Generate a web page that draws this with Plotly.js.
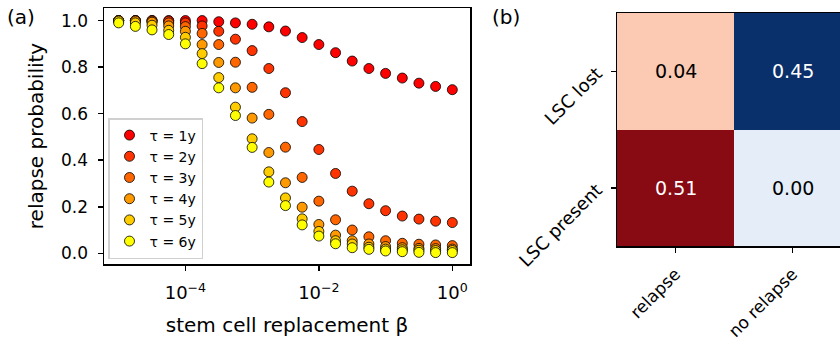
<!DOCTYPE html>
<html>
<head>
<meta charset="utf-8">
<script src="https://cdn.plot.ly/plotly-3.0.1.min.js"></script>
<style>html,body{margin:0;padding:0;background:#fff;}#chart{width:840px;height:347px;}</style>
</head>
<body>
<div id="chart"></div>
<script>
// ---- data: panel (a) ----
const beta = [1.0e-5, 1.78e-5, 3.16e-5, 5.62e-5, 1.0e-4, 1.78e-4, 3.16e-4, 5.62e-4, 1.0e-3, 1.78e-3, 3.16e-3, 5.62e-3, 1.0e-2, 1.78e-2, 3.16e-2, 5.62e-2, 0.1, 0.178, 0.316, 0.562, 1.0];
const tauLabels = ["τ = 1y", "τ = 2y", "τ = 3y", "τ = 4y", "τ = 5y", "τ = 6y"];
const tauColors = ["#ff0000", "#ff3300", "#ff6600", "#ff9900", "#ffcc00", "#ffff00"];
const tau1 = [1.0, 1.0, 1.0, 1.0, 1.0, 1.0, 0.995, 0.99, 0.984, 0.973, 0.955, 0.927, 0.897, 0.862, 0.826, 0.794, 0.773, 0.753, 0.731, 0.717, 0.703];
const tau2 = [1.0, 1.0, 1.0, 0.998, 0.99, 0.977, 0.954, 0.92, 0.871, 0.794, 0.69, 0.566, 0.446, 0.343, 0.267, 0.213, 0.183, 0.16, 0.147, 0.138, 0.132];
const tau3 = [1.0, 1.0, 0.998, 0.99, 0.974, 0.945, 0.897, 0.821, 0.713, 0.597, 0.456, 0.326, 0.224, 0.144, 0.1, 0.071, 0.054, 0.043, 0.039, 0.036, 0.033];
const tau4 = [1.0, 0.998, 0.993, 0.977, 0.954, 0.897, 0.82, 0.711, 0.581, 0.433, 0.303, 0.198, 0.124, 0.078, 0.054, 0.04, 0.029, 0.024, 0.021, 0.02, 0.018];
const tau5 = [0.998, 0.99, 0.98, 0.958, 0.928, 0.858, 0.755, 0.628, 0.492, 0.35, 0.238, 0.148, 0.094, 0.054, 0.04, 0.026, 0.018, 0.015, 0.013, 0.012, 0.012];
const tau6 = [0.99, 0.975, 0.96, 0.94, 0.90, 0.815, 0.711, 0.592, 0.455, 0.306, 0.205, 0.122, 0.074, 0.041, 0.024, 0.017, 0.01, 0.007, 0.004, 0.003, 0.003];
const tauSeries = [tau1, tau2, tau3, tau4, tau5, tau6];
const xTickVals = [1e-4, 1e-2, 1];
const xTickText = ["10<sup>−4</sup>", "10<sup>−2</sup>", "10<sup>0</sup>"];
const yTickVals = [0.0, 0.2, 0.4, 0.6, 0.8, 1.0];

// ---- data: panel (b) ----
const outcomeCats = ["relapse", "no relapse"];
const lscCats = ["LSC present", "LSC lost"];
const relapseCol = [0.51, 0.04];    // [LSC present, LSC lost]
const noRelapseCol = [0.00, 0.45];

const FONT = "DejaVu Sans, sans-serif";
const traces = [];
tauSeries.forEach((s, i) => {
  traces.push({
    type: "scatter", mode: "markers", x: beta, y: s, name: tauLabels[i],
    xaxis: "x", yaxis: "y",
    marker: {size: 10, color: tauColors[i], line: {color: "#000", width: 0.8}},
    hoverinfo: "skip"
  });
});
traces.push({
  type: "heatmap", x0: 0, dx: 1, y0: 0, dy: 1, z: relapseCol.map(v => [v]),
  xaxis: "x2", yaxis: "y2", showscale: false, showlegend: false,
  zmin: 0.04, zmax: 0.51, colorscale: [[0, "#fcc9b2"], [1, "#880a13"]], hoverinfo: "skip"
});
traces.push({
  type: "heatmap", x0: 1, dx: 1, y0: 0, dy: 1, z: noRelapseCol.map(v => [v]),
  xaxis: "x2", yaxis: "y2", showscale: false, showlegend: false,
  zmin: 0.0, zmax: 0.45, colorscale: [[0, "#e5eef8"], [1, "#0a306b"]], hoverinfo: "skip"
});

const annotations = [];
[relapseCol, noRelapseCol].forEach((col, ci) => {
  const lo = Math.min(...col), hi = Math.max(...col);
  col.forEach((v, ri) => {
    annotations.push({
      xref: "x2", yref: "y2", x: ci, y: ri,
      text: v.toFixed(2), showarrow: false,
      font: {family: FONT, size: 19, color: (v - lo) > (hi - lo) / 2 ? "#ffffff" : "#000000"}
    });
  });
});
annotations.push({xref: "paper", yref: "paper", x: 5 / 840, y: 1 - 3 / 347, xanchor: "left", yanchor: "top",
  text: "(a)", showarrow: false, font: {family: FONT, size: 20, color: "#000"}});
annotations.push({xref: "paper", yref: "paper", x: 490 / 840, y: 1 - 3 / 347, xanchor: "left", yanchor: "top",
  text: "(b)", showarrow: false, font: {family: FONT, size: 20, color: "#000"}});

const axisCommon = {
  showline: true, linecolor: "#000", linewidth: 1.5, mirror: true,
  ticks: "outside", ticklen: 5, tickwidth: 1.5, tickcolor: "#000",
  showgrid: false, zeroline: false,
  tickfont: {family: FONT, size: 17, color: "#000"}
};

const layout = {
  width: 840, height: 347,
  margin: {l: 0, r: 0, t: 0, b: 0},
  paper_bgcolor: "#fff", plot_bgcolor: "#fff",
  font: {family: FONT, color: "#000"},
  showlegend: true,
  legend: {
    x: 108 / 840, y: 1 - 118 / 347, xanchor: "left", yanchor: "top",
    bgcolor: "rgba(255,255,255,0.9)", bordercolor: "#d0d0d0", borderwidth: 1.5,
    font: {family: FONT, size: 14, color: "#000"}, itemwidth: 30, tracegroupgap: 0
  },
  xaxis: Object.assign({}, axisCommon, {
    type: "log", domain: [104 / 840, 470 / 840], range: [-5.22, 0.265],
    tickvals: xTickVals, ticktext: xTickText, anchor: "y",
    tickfont: {family: FONT, size: 18, color: "#000"}, ticklabelstandoff: 7,
    title: {text: "stem cell replacement β", font: {family: FONT, size: 20, color: "#000"}, standoff: 16}
  }),
  yaxis: Object.assign({}, axisCommon, {
    domain: [1 - 264 / 347, 1 - 8 / 347], range: [-0.046, 1.054],
    tickvals: yTickVals, tickformat: ".1f", anchor: "x", ticklabelstandoff: 6,
    title: {text: "relapse probability", font: {family: FONT, size: 20, color: "#000"}, standoff: 12}
  }),
  xaxis2: Object.assign({}, axisCommon, {
    domain: [617 / 840, 1], range: [-0.5, 1.406], anchor: "y2",
    tickvals: [0, 1], ticktext: outcomeCats,
    tickfont: {family: FONT, size: 17, color: "#000"},
    mirror: true, tickangle: -45, ticklabelstandoff: 5
  }),
  yaxis2: Object.assign({}, axisCommon, {
    domain: [1 - 246 / 347, 1 - 13 / 347], range: [-0.5, 1.5], anchor: "x2",
    tickvals: [0, 1], ticktext: lscCats,
    tickfont: {family: FONT, size: 18, color: "#000"},
    mirror: false, tickangle: -45, ticklabelstandoff: 10
  }),
  annotations: annotations
};

Plotly.newPlot("chart", traces, layout, {staticPlot: true, displayModeBar: false});
</script>
</body>
</html>
